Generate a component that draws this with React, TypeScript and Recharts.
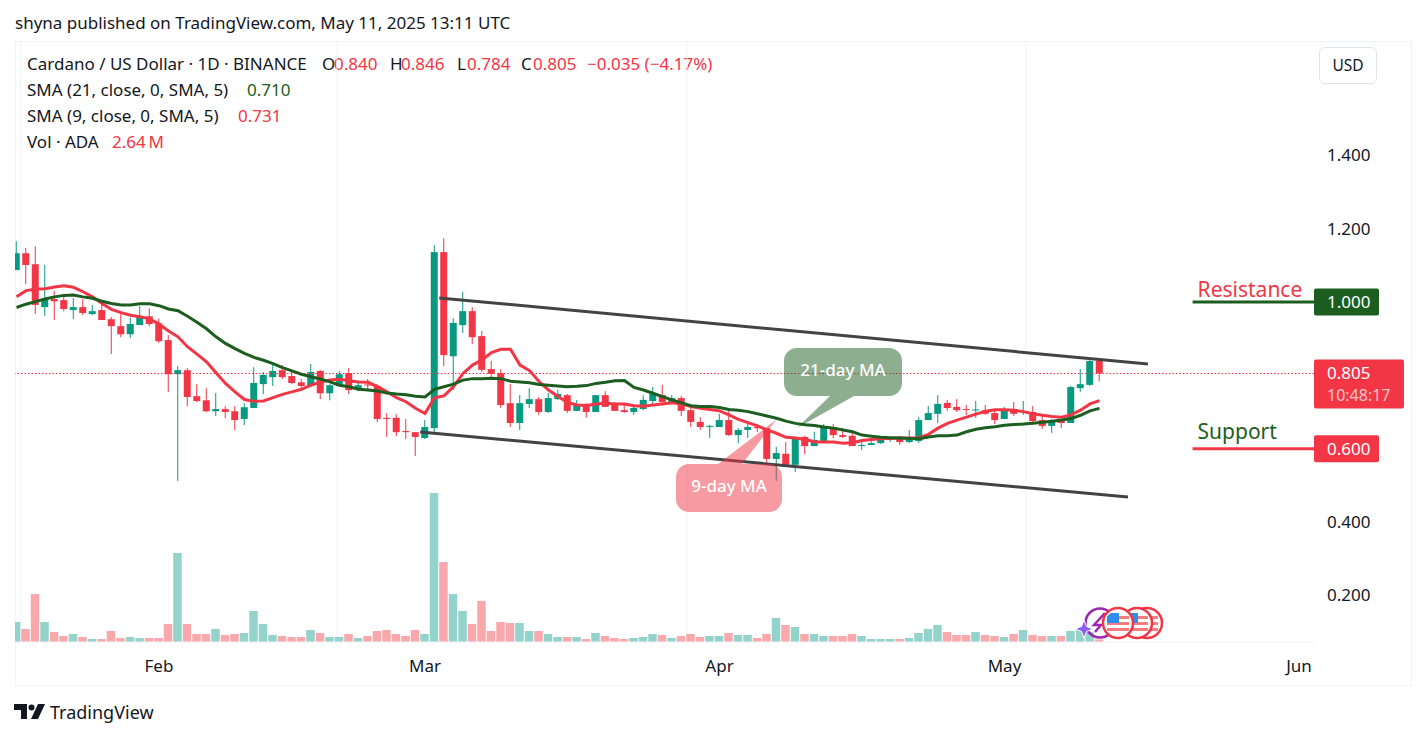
import { Bar, CartesianGrid, Cell, ComposedChart, Line, ReferenceLine, XAxis, YAxis } from "recharts";

// daily ADA/USD candles, Jan 17 - May 11 2025
const opens = [
    1.087, 1.133, 1.103, .986, 1.008, 1.005, .978, .986, .967, .978,
    .953, .934, .912, .937, .961, .942, .896, .803, .814, .743,
    .732, .702, .708, .702, .681, .711, .776, .795, .814, .798,
    .781, .771, .812, .751, .771, .806, .760, .775, .771, .684,
    .684, .648, .645, .629, .656, 1.136, .852, .937, .975, .907,
    .817, .806, .724, .670, .722, .735, .700, .735, .746, .703,
    .719, .700, .746, .719, .705, .700, .708, .730, .746, .727,
    .738, .705, .673, .660, .659, .678, .637, .651, .659, .656,
    .572, .586, .556, .632, .607, .621, .659, .637, .635, .609,
    .610, .615, .625, .629, .618, .621, .678, .695, .725, .714,
    .708, .705, .705, .697, .681, .708, .700, .700, .678, .662,
    .678, .670, .765, .774, .840,
];
const highs = [
    1.166, 1.147, 1.152, 1.101, 1.030, 1.019, 1.011, 1.008, .992, .995,
    .959, .967, .958, .989, .983, .955, .910, .825, .820, .776,
    .765, .752, .716, .716, .724, .822, .809, .828, .828, .814,
    .790, .831, .814, .776, .812, .820, .784, .790, .776, .697,
    .694, .681, .645, .678, 1.155, 1.174, .956, 1.027, .986, .921,
    .839, .817, .776, .746, .765, .741, .752, .760, .749, .733,
    .724, .746, .757, .727, .719, .719, .746, .768, .774, .746,
    .744, .716, .686, .665, .695, .708, .656, .673, .667, .656,
    .605, .618, .632, .635, .646, .667, .667, .656, .646, .624,
    .629, .632, .632, .635, .651, .686, .716, .746, .733, .735,
    .719, .730, .719, .705, .714, .727, .730, .716, .689, .681,
    .681, .771, .817, .842, .846,
];
const lows = [
    1.087, 1.049, .967, .962, .951, .975, .953, .964, .964, .951,
    .858, .904, .902, .937, .934, .888, .754, .512, .716, .727,
    .700, .689, .683, .651, .664, .711, .749, .771, .790, .776,
    .762, .771, .735, .732, .771, .749, .757, .760, .672, .632,
    .634, .626, .580, .626, .645, .825, .760, .915, .885, .809,
    .795, .711, .659, .651, .711, .692, .697, .733, .697, .703,
    .684, .700, .714, .703, .697, .692, .705, .722, .724, .722,
    .689, .659, .651, .629, .659, .635, .615, .629, .645, .561,
    .512, .556, .536, .585, .607, .618, .629, .629, .607, .596,
    .610, .613, .618, .610, .615, .615, .678, .670, .703, .700,
    .692, .684, .692, .667, .681, .689, .692, .673, .654, .643,
    .656, .670, .755, .771, .784,
];
const closes = [
    1.133, 1.101, .992, 1.009, 1.002, .981, .986, .970, .975, .951,
    .934, .912, .940, .959, .940, .893, .803, .814, .741, .730,
    .702, .708, .700, .678, .713, .779, .801, .812, .795, .779,
    .771, .809, .751, .773, .803, .760, .773, .773, .681, .681,
    .645, .645, .632, .659, 1.136, .855, .943, .975, .904, .815,
    .804, .719, .670, .724, .735, .700, .738, .749, .703, .719,
    .700, .746, .714, .703, .700, .711, .733, .749, .727, .738,
    .703, .673, .659, .662, .678, .637, .651, .659, .656, .572,
    .588, .556, .632, .607, .624, .659, .637, .632, .607, .610,
    .615, .626, .628, .618, .624, .678, .697, .722, .711, .705,
    .706, .707, .695, .678, .705, .695, .702, .675, .662, .678,
    .670, .768, .776, .839, .805,
];
const sma9 = [
    1.014, 1.031, 1.035, 1.036, 1.041, 1.044, 1.040, 1.028, 1.014, .996,
    .980, .971, .964, .960, .954, .940, .921, .905, .878, .858,
    .837, .807, .778, .755, .734, .729, .730, .739, .748, .755,
    .762, .773, .782, .787, .789, .785, .782, .781, .769, .755,
    .739, .728, .710, .696, .739, .744, .769, .805, .828, .842,
    .862, .871, .871, .828, .813, .783, .760, .742, .726, .719,
    .718, .722, .724, .722, .722, .717, .716, .719, .722, .725,
    .722, .715, .710, .707, .703, .692, .680, .671, .662, .651,
    .642, .631, .629, .625, .619, .618, .618, .615, .616, .622,
    .625, .627, .628, .629, .629, .630, .639, .656, .669, .678,
    .686, .694, .702, .706, .706, .705, .701, .695, .691, .688,
    .686, .692, .705, .722, .731,
];
const sma21 = [
    .985, .994, 1.001, 1.008, 1.014, 1.018, 1.019, 1.014, 1.010, 1.002,
    .996, .992, .992, .995, .995, .990, .981, .976, .961, .945,
    .927, .905, .887, .873, .860, .849, .841, .832, .821, .812,
    .803, .796, .790, .782, .773, .769, .762, .760, .757, .752,
    .749, .747, .743, .741, .762, .769, .776, .787, .791, .791,
    .792, .791, .784, .782, .780, .775, .773, .771, .769, .770,
    .772, .778, .781, .785, .786, .767, .760, .751, .742, .733,
    .725, .717, .715, .715, .712, .707, .705, .701, .695, .689,
    .683, .675, .669, .665, .663, .659, .656, .651, .646, .637,
    .634, .631, .630, .629, .628, .627, .632, .635, .635, .637,
    .646, .653, .657, .660, .664, .666, .667, .669, .672, .675,
    .678, .682, .691, .703, .710,
];
// millions of ADA
const volumes = [
    20, 13, 48, 20, 10, 6, 8, 5, 3, 3,
    11, 4, 5, 4, 4, 4, 18, 89, 18, 8,
    8, 13, 7, 8, 9, 31, 18, 7, 6, 5,
    5, 12, 9, 5, 5, 8, 4, 6, 11, 12,
    8, 6, 12, 8, 149, 80, 48, 31, 18, 41,
    11, 20, 19, 19, 11, 11, 8, 5, 5, 5,
    3, 9, 6, 4, 3, 4, 5, 8, 7, 4,
    6, 8, 5, 6, 6, 9, 7, 7, 4, 8,
    24, 17, 15, 8, 8, 6, 6, 6, 8, 6,
    3, 3, 3, 3, 4, 9, 13, 17, 10, 7,
    7, 10, 7, 6, 5, 8, 12, 7, 6, 6,
    6, 11, 12, 10, 2.64,
];

// x axis is days since Feb 1
const firstDay = -15;
const monthTicks = [0, 28, 59, 89, 120];
const monthLabels = ["Feb", "Mar", "Apr", "May", "Jun"];
const gridPrices = [1.6, 1.4, 1.2, 1.0, 0.8, 0.6, 0.4, 0.2];
const priceTicks = [1.4, 1.2, 1.0, 0.805, 0.6, 0.4, 0.2];
const lastPrice = 0.805;
const resistance = 1.0;
const support = 0.6;
const upperChannel = [{ x: 29.5, y: 1.011 }, { x: 104.1, y: 0.831 }];
const lowerChannel = [{ x: 27.5, y: 0.6455 }, { x: 102, y: 0.468 }];

const GREEN = "#089981";
const RED = "#f23645";
const VOL_GREEN = "#94d3cb";
const VOL_RED = "#f9a9ab";
const MA_GREEN = "#1b5e20";
const GRID = "#f0f3fa";
const TEXT = "#131722";
const FONT = "'Noto Sans', sans-serif";
const FONT_SIZE = 17;

const rows = opens.map((open, i) => ({
    day: firstDay + i,
    open,
    close: closes[i],
    range: [lows[i], highs[i]],
    sma9: sma9[i],
    sma21: sma21[i],
    volume: volumes[i],
}));

const xDomain: [number, number] = [-15.158, 121.58];

function Candle(props: any) {
    const { x, y, width, height, payload } = props;
    const [low, high] = payload.range;
    const perUnit = height / (high - low);
    const top = y + (high - Math.max(payload.open, payload.close)) * perUnit;
    const bodyH = Math.max(Math.abs(payload.open - payload.close) * perUnit, 1);
    const color = payload.close >= payload.open ? GREEN : RED;
    return (
        <g>
            <line x1={x + width / 2} x2={x + width / 2} y1={y} y2={y + height} stroke={color} strokeWidth={1} />
            <rect x={x} y={top} width={width} height={bodyH} fill={color} />
        </g>
    );
}

function PriceTick(props: any) {
    const { y, payload } = props;
    const x = props.x - 2;
    const v = payload.value;
    const label = v.toFixed(3);
    const box = (fill: string) => (
        <g fontFamily={FONT} fontSize={FONT_SIZE}>
            <rect x={x} y={y - 13.5} width={65} height={27} rx={2} fill={fill} />
            <text x={x + 13} y={y + 6} fill="#fff">{label}</text>
        </g>
    );
    if (v === resistance) return box(MA_GREEN);
    if (v === support) return box(RED);
    if (v === lastPrice) {
        return (
            <g fontFamily={FONT} fontSize={FONT_SIZE}>
                <rect x={x} y={y - 14} width={90} height={49} rx={2} fill={RED} />
                <text x={x + 13} y={y + 6} fill="#fff">{label}</text>
                <text x={x + 13} y={y + 28} fill="#fcc5cb" fontSize={16}>10:48:17</text>
            </g>
        );
    }
    return (
        <text x={x + 13} y={y + 6} fill={TEXT} fontFamily={FONT} fontSize={FONT_SIZE}>{label}</text>
    );
}

function LevelLabel(props: any) {
    const { viewBox, text, color, lift } = props;
    return (
        <text x={viewBox.x + 5} y={viewBox.y - lift} fill={color} fontFamily={FONT} fontSize={21}>{text}</text>
    );
}

function Flag({ cx }: { cx: number }) {
    return (
        <g>
            <circle cx={cx} cy={623} r={15} fill="#fff" stroke={RED} strokeWidth={2.5} />
            <rect x={cx - 11} y={616} width={22} height={3} fill="#f77c80" />
            <rect x={cx - 11} y={622} width={22} height={3} fill="#f77c80" />
            <rect x={cx - 11} y={628} width={22} height={3} fill="#f77c80" />
            <path d={`M${cx - 11} 623 V617 a10 10 0 0 1 4 -4 h8 V623 Z`} fill="#2e8fee" />
        </g>
    );
}

// callouts and event badges sit on top of the chart
function Overlay() {
    return (
        <svg width={1427} height={738} style={{ position: "absolute", left: 0, top: 0, pointerEvents: "none" }}>
            <path
                d="M797 348 H889 a13 13 0 0 1 13 13 V383 a13 13 0 0 1 -13 13 H854 L797 428 L830 396 H797 a13 13 0 0 1 -13 -13 V361 a13 13 0 0 1 13 -13 Z"
                fill={MA_GREEN}
                fillOpacity={0.5}
            />
            <text x={843} y={376} textAnchor="middle" fill="#fff" fontFamily={FONT} fontSize={17} fontWeight={500}>21-day MA</text>
            <path
                d="M689 464 H718 L777 419 L742 464 H769 a13 13 0 0 1 13 13 V499 a13 13 0 0 1 -13 13 H689 a13 13 0 0 1 -13 -13 V477 a13 13 0 0 1 13 -13 Z"
                fill={RED}
                fillOpacity={0.5}
            />
            <text x={729} y={492} textAnchor="middle" fill="#fff" fontFamily={FONT} fontSize={17} fontWeight={500}>9-day MA</text>

            <circle cx={1100} cy={623} r={14.5} fill="none" stroke="#9c27b0" strokeWidth={2.5} />
            <path d="M1105 613 L1094 625 H1101 L1095 632" fill="none" stroke="#9c27b0" strokeWidth={2.5} />
            <path
                d="M1084 620 L1086.5 626.5 L1093 629 L1086.5 631.5 L1084 638 L1081.5 631.5 L1075 629 L1081.5 626.5 Z"
                fill="#8c5cf6"
                stroke="#fff"
                strokeWidth={1}
            />
            <Flag cx={1147} />
            <Flag cx={1137} />
            <Flag cx={1118} />
        </svg>
    );
}

function Txt({ x, y, color = TEXT, size = FONT_SIZE, children }: any) {
    return (
        <span style={{ position: "absolute", left: x, top: y, color, fontSize: size, lineHeight: "20px", whiteSpace: "pre" }}>
            {children}
        </span>
    );
}

function Header() {
    return (
        <div style={{ position: "absolute", left: 0, top: 0, fontFamily: FONT }}>
            <Txt x={15} y={13}>shyna published on TradingView.com, May 11, 2025 13:11 UTC</Txt>

            <Txt x={27} y={54}>Cardano / US Dollar · 1D · BINANCE</Txt>
            <Txt x={322} y={54}>O</Txt>
            <Txt x={334} y={54} color={RED}>0.840</Txt>
            <Txt x={390} y={54}>H</Txt>
            <Txt x={401} y={54} color={RED}>0.846</Txt>
            <Txt x={457} y={54}>L</Txt>
            <Txt x={467} y={54} color={RED}>0.784</Txt>
            <Txt x={521} y={54}>C</Txt>
            <Txt x={533} y={54} color={RED}>0.805</Txt>
            <Txt x={587} y={54} color={RED}>−0.035 (−4.17%)</Txt>

            <Txt x={27} y={80}>SMA (21, close, 0, SMA, 5)</Txt>
            <Txt x={247} y={80} color={MA_GREEN}>0.710</Txt>
            <Txt x={27} y={106}>SMA (9, close, 0, SMA, 5)</Txt>
            <Txt x={238} y={106} color={RED}>0.731</Txt>
            <Txt x={27} y={132}>Vol · ADA</Txt>
            <Txt x={112} y={132} color={RED}>2.64{"\u2009"}M</Txt>

            <div
                style={{
                    position: "absolute", left: 1319, top: 47, width: 58, height: 37, boxSizing: "border-box",
                    border: "1px solid #e0e3eb", borderRadius: 6, textAlign: "center", lineHeight: "35px",
                    fontSize: 15.5, color: TEXT,
                }}
            >
                USD
            </div>

            <svg width={32} height={18} style={{ position: "absolute", left: 14, top: 703 }}>
                <path d="M0 1 H13 V16 H7 V7 H0 Z" fill={TEXT} />
                <circle cx={17.5} cy={4.5} r={3} fill={TEXT} />
                <path d="M24 1 H31 L24 16 H17 Z" fill={TEXT} />
            </svg>
            <Txt x={50} y={702} size={18}>TradingView</Txt>
        </div>
    );
}

export default function App() {
    return (
        <div style={{ position: "absolute", left: 0, top: 0, width: 1427, height: 738, background: "#fff", overflow: "hidden" }}>
            <Header />
            <div style={{ position: "absolute", left: 15, top: 41, width: 1397, height: 645, boxSizing: "border-box", border: `1px solid ${GRID}` }} />
            <div style={{ position: "absolute", left: 15, top: 41 }}>
                <ComposedChart width={1396} height={644} data={rows} margin={{ top: 0, right: 0, bottom: 0, left: 0 }}>
                    <CartesianGrid stroke={GRID} horizontalValues={gridPrices} verticalValues={monthTicks} />
                    <XAxis
                        xAxisId="time"
                        dataKey="day"
                        type="number"
                        domain={xDomain}
                        ticks={monthTicks}
                        allowDataOverflow
                        interval={0}
                        height={43}
                        tickLine={false}
                        axisLine={{ stroke: GRID }}
                        tickMargin={12}
                        tick={{ fill: TEXT, fontFamily: FONT, fontSize: FONT_SIZE }}
                        tickFormatter={(d: number) => monthLabels[monthTicks.indexOf(d)]}
                    />
                    <XAxis xAxisId="volTime" dataKey="day" type="number" domain={xDomain} allowDataOverflow hide height={0} />
                    <YAxis
                        yAxisId="price"
                        orientation="right"
                        width={97}
                        domain={[0.0727, 1.7118]}
                        allowDataOverflow
                        ticks={priceTicks}
                        interval={0}
                        tickLine={false}
                        tickSize={0}
                        axisLine={false}
                        tick={<PriceTick />}
                    />
                    <YAxis yAxisId="vol" hide domain={[0, 601]} />

                    <Bar xAxisId="volTime" yAxisId="vol" dataKey="volume" barSize={8.5} isAnimationActive={false}>
                        {rows.map((r) => (
                            <Cell key={r.day} fill={r.close >= r.open ? VOL_GREEN : VOL_RED} />
                        ))}
                    </Bar>

                    <ReferenceLine xAxisId="time" yAxisId="price" y={lastPrice} stroke={RED} strokeWidth={1.2} strokeDasharray="1.5 2" />
                    <ReferenceLine xAxisId="time" yAxisId="price" segment={upperChannel} stroke="#434343" strokeWidth={3} />
                    <ReferenceLine xAxisId="time" yAxisId="price" segment={lowerChannel} stroke="#434343" strokeWidth={3} />
                    <ReferenceLine
                        xAxisId="time"
                        yAxisId="price"
                        segment={[{ x: 108.8, y: resistance }, { x: 121.58, y: resistance }]}
                        stroke={MA_GREEN}
                        strokeWidth={3}
                        label={<LevelLabel text="Resistance" color={RED} lift={5} />}
                    />
                    <ReferenceLine
                        xAxisId="time"
                        yAxisId="price"
                        segment={[{ x: 108.8, y: support }, { x: 121.58, y: support }]}
                        stroke={RED}
                        strokeWidth={3}
                        label={<LevelLabel text="Support" color={MA_GREEN} lift={10} />}
                    />

                    <Bar xAxisId="time" yAxisId="price" dataKey="range" barSize={7} shape={<Candle />} isAnimationActive={false} />

                    <Line xAxisId="time" yAxisId="price" dataKey="sma9" stroke={RED} strokeWidth={3} dot={false} isAnimationActive={false} />
                    <Line xAxisId="time" yAxisId="price" dataKey="sma21" stroke={MA_GREEN} strokeWidth={3} dot={false} isAnimationActive={false} />
                </ComposedChart>
            </div>
            <Overlay />
        </div>
    );
}
